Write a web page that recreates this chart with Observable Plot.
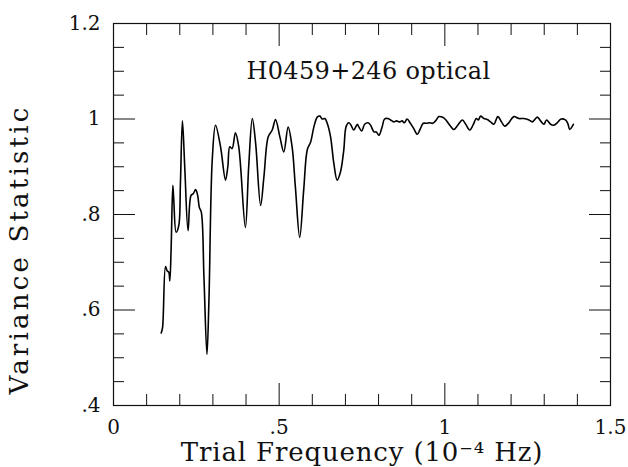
<!DOCTYPE html>
<html>
<head>
<meta charset="utf-8">
<script src="https://cdn.jsdelivr.net/npm/d3@7"></script>
<script src="https://cdn.jsdelivr.net/npm/@observablehq/plot@0.6"></script>
<style>
  html, body { margin: 0; padding: 0; background: #fff; }
</style>
</head>
<body>
<div id="chart"></div>
<script>
// Trial frequency (10^-4 Hz)
const freq = [
  0.144, 0.148, 0.157, 0.162, 0.167, 0.170, 0.174, 0.179, 0.182, 0.189,
  0.197, 0.202, 0.208, 0.215, 0.225, 0.234, 0.241, 0.248, 0.254, 0.259,
  0.265, 0.273, 0.282, 0.288, 0.298, 0.308, 0.323, 0.338, 0.345, 0.351,
  0.358, 0.368, 0.378, 0.398, 0.408, 0.419, 0.429, 0.444, 0.454, 0.467,
  0.479, 0.489, 0.502, 0.514, 0.527, 0.539, 0.549, 0.562, 0.574, 0.585,
  0.595, 0.605, 0.615, 0.623, 0.630, 0.638, 0.645, 0.655, 0.665, 0.675,
  0.685, 0.695, 0.702, 0.710, 0.717, 0.725, 0.736, 0.740, 0.749, 0.758,
  0.768, 0.776, 0.786, 0.793, 0.801, 0.811, 0.818, 0.828, 0.836, 0.846,
  0.854, 0.864, 0.871, 0.878, 0.886, 0.896, 0.906, 0.917, 0.925, 0.935,
  0.945, 0.954, 0.964, 0.972, 0.982, 0.992, 1.002, 1.015, 1.027, 1.039,
  1.053, 1.063, 1.075, 1.085, 1.095, 1.101, 1.108, 1.118, 1.128, 1.138,
  1.148, 1.160, 1.171, 1.181, 1.193, 1.208, 1.223, 1.238, 1.254, 1.264,
  1.279, 1.289, 1.299, 1.307, 1.319, 1.329, 1.339, 1.351, 1.364, 1.371,
  1.377, 1.385, 1.388
];
// Variance statistic
const stat = [
  0.552, 0.563, 0.691, 0.682, 0.679, 0.661, 0.731, 0.861, 0.829, 0.763,
  0.777, 0.865, 0.996, 0.900, 0.766, 0.840, 0.844, 0.852, 0.840, 0.815,
  0.805, 0.668, 0.507, 0.619, 0.914, 0.987, 0.942, 0.872, 0.900, 0.942,
  0.938, 0.971, 0.942, 0.773, 0.900, 1.001, 0.949, 0.819, 0.879, 0.963,
  0.977, 0.999, 0.963, 0.931, 0.983, 0.942, 0.857, 0.752, 0.851, 0.936,
  0.952, 0.984, 1.004, 1.006, 1.000, 1.001, 0.991, 0.963, 0.907, 0.872,
  0.889, 0.935, 0.984, 0.992, 0.987, 0.977, 0.989, 0.984, 0.975, 0.989,
  0.992, 0.987, 0.973, 0.973, 0.966, 0.984, 1.000, 1.001, 0.998, 0.994,
  0.996, 0.994, 0.996, 0.992, 1.000, 0.991, 0.980, 0.968, 0.978, 0.991,
  0.991, 0.992, 0.991, 0.996, 1.005, 1.004, 0.999, 0.987, 0.978, 0.987,
  0.998, 0.989, 0.977, 0.987, 1.001, 0.998, 1.006, 1.001, 0.999, 0.994,
  0.989, 1.005, 0.994, 0.985, 0.992, 1.005, 1.001, 1.001, 0.998, 0.994,
  1.004, 0.996, 0.989, 0.998, 0.989, 0.987, 0.992, 1.000, 0.998, 0.991,
  0.978, 0.985, 0.989
];

const xMajor = [0, 0.5, 1, 1.5];
const xMinor = [0.1, 0.2, 0.3, 0.4, 0.6, 0.7, 0.8, 0.9, 1.1, 1.2, 1.3, 1.4];
const yMajor = [0.4, 0.6, 0.8, 1.0, 1.2];
const yMinor = [0.45, 0.5, 0.55, 0.65, 0.7, 0.75, 0.85, 0.9, 0.95, 1.05, 1.1, 1.15];

const titleText = "H0459+246 optical";
const xLabel = "Trial Frequency (10\u207B\u2074 Hz)";
const yLabel = "Variance Statistic";

const data = freq.map((f, i) => ({f, v: stat[i]}));
const fmt = d => d === 0 ? "0" : String(+d.toFixed(2)).replace(/^0\./, ".");
const blank = () => "";
const ink = "#111";

const chart = Plot.plot({
  width: 628,
  height: 467,
  marginLeft: 113,
  marginRight: 18,
  marginTop: 23,
  marginBottom: 62,
  style: {fontFamily: "'DejaVu Serif', serif", fontSize: "20px", color: ink, background: "#fff"},
  x: {domain: [0, 1.5], axis: null},
  y: {domain: [0.4, 1.2], axis: null},
  marks: [
    Plot.axisX(xMinor, {anchor: "bottom", tickSize: -11, tickFormat: blank, label: null, stroke: ink}),
    Plot.axisX(xMinor, {anchor: "top", tickSize: -11, tickFormat: blank, label: null, stroke: ink}),
    Plot.axisX(xMajor, {anchor: "bottom", tickSize: -22, tickFormat: blank, label: null, stroke: ink}),
    Plot.axisX(xMajor, {anchor: "top", tickSize: -22, tickFormat: blank, label: null, stroke: ink}),
    Plot.axisY(yMinor, {anchor: "left", tickSize: -11, tickFormat: blank, label: null, stroke: ink}),
    Plot.axisY(yMinor, {anchor: "right", tickSize: -11, tickFormat: blank, label: null, stroke: ink}),
    Plot.axisY(yMajor, {anchor: "left", tickSize: -22, tickFormat: blank, label: null, stroke: ink}),
    Plot.axisY(yMajor, {anchor: "right", tickSize: -22, tickFormat: blank, label: null, stroke: ink}),
    Plot.axisX(xMajor, {anchor: "bottom", tickSize: 0, tickPadding: 14, tickFormat: fmt, label: null, fontSize: 20, fill: ink}),
    Plot.axisY(yMajor, {anchor: "left", tickSize: 0, tickPadding: 13, tickFormat: fmt, label: null, fontSize: 20, fill: ink}),
    Plot.frame({stroke: ink, strokeWidth: 1.2}),
    Plot.line(data, {x: "f", y: "v", stroke: "#000", strokeWidth: 1.6, curve: "catmull-rom"}),
    Plot.text([titleText], {frameAnchor: "top", textAnchor: "middle", dx: 6.5, dy: 48, lineAnchor: "middle", fontSize: 24, fill: ink}),
    Plot.text([xLabel], {frameAnchor: "bottom", textAnchor: "middle", dy: 47, lineAnchor: "middle", fontSize: 26, fill: ink}),
    Plot.text([yLabel], {frameAnchor: "left", textAnchor: "middle", rotate: -90, dx: -94, dy: 35, lineAnchor: "middle", fontSize: 26, fill: ink})
  ]
});
document.getElementById("chart").appendChild(chart);

// letter spacing to match the wide typeface of the original
const spacing = new Map([[titleText, "0.35px"], [xLabel, "0.85px"], [yLabel, "3.2px"]]);
d3.select(chart).selectAll("text").each(function() {
  const s = spacing.get(this.textContent);
  if (s) this.setAttribute("letter-spacing", s);
});
</script>
</body>
</html>
